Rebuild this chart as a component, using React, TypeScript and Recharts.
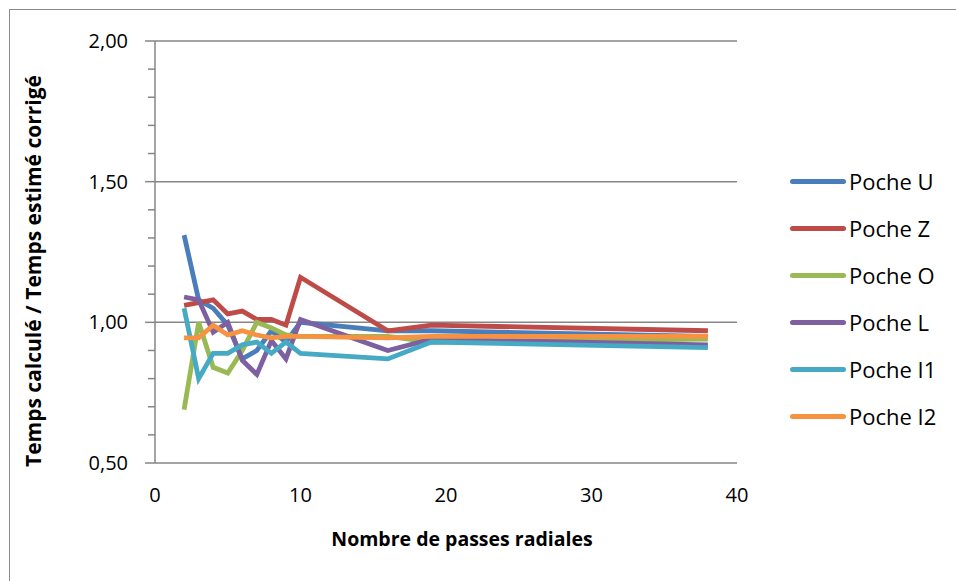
import React from "react";
import { LineChart, Line, XAxis, YAxis, ReferenceLine } from "recharts";

const passes = [2, 3, 4, 5, 6, 7, 8, 9, 10, 16, 19, 38];
const pocheU = [1.31, 1.08, 1.05, 0.99, 0.87, 0.9, 0.97, 0.93, 1.0, 0.97, 0.97, 0.95];
const pocheZ = [1.06, 1.07, 1.08, 1.03, 1.04, 1.01, 1.01, 0.99, 1.16, 0.97, 0.99, 0.97];
const pocheO = [0.69, 1.0, 0.84, 0.82, 0.9, 1.0, 0.98, 0.955, 0.95, 0.95, 0.93, 0.94];
const pocheL = [1.09, 1.08, 0.965, 1.0, 0.865, 0.815, 0.935, 0.87, 1.01, 0.9, 0.94, 0.92];
const pocheI1 = [1.05, 0.8, 0.89, 0.89, 0.92, 0.93, 0.89, 0.93, 0.89, 0.87, 0.93, 0.91];
const pocheI2 = [0.945, 0.945, 0.99, 0.955, 0.97, 0.955, 0.945, 0.95, 0.95, 0.945, 0.95, 0.95];

const xTicks = [0, 10, 20, 30, 40];
const yTicks = [0.5, 0.6, 0.7, 0.8, 0.9, 1.0, 1.1, 1.2, 1.3, 1.4, 1.5, 1.6, 1.7, 1.8, 1.9, 2.0];
const yMajor = [1.0, 1.5, 2.0];

const SERIES = [
  { key: "u", name: "Poche U", values: pocheU, color: "#4A7EBB" },
  { key: "z", name: "Poche Z", values: pocheZ, color: "#BE4B48" },
  { key: "o", name: "Poche O", values: pocheO, color: "#98B954" },
  { key: "l", name: "Poche L", values: pocheL, color: "#7D60A0" },
  { key: "i1", name: "Poche I1", values: pocheI1, color: "#46AAC5" },
  { key: "i2", name: "Poche I2", values: pocheI2, color: "#F69240" },
];

const FONT = "'Open Sans', 'Liberation Sans', sans-serif";
const GRID = "#868686";

const data = passes.map((x, i) => {
  const row: Record<string, number> = { x };
  SERIES.forEach((s) => {
    row[s.key] = s.values[i];
  });
  return row;
});

const isMajor = (v: number) => Math.round(v * 100) % 50 === 0;

// y tick: short mark for minor steps, longer mark + label for major ones
const YTick = (props: any) => {
  const { x, y, payload } = props;
  const v = payload.value as number;
  const major = isMajor(v);
  return (
    <g>
      <line x1={x - (major ? 10 : 7)} x2={x} y1={y} y2={y} stroke={GRID} strokeWidth={1.5} />
      {major && (
        <text
          x={x - 27}
          y={y}
          dy="0.35em"
          textAnchor="end"
          fontSize={20}
          fontFamily={FONT}
          fill="#000"
        >
          {v.toFixed(2).replace(".", ",")}
        </text>
      )}
    </g>
  );
};

export default function App() {
  return (
    <div
      style={{
        position: "fixed",
        left: 0,
        top: 0,
        width: 956,
        height: 581,
        overflow: "hidden",
        background: "#fff",
        fontFamily: FONT,
      }}
    >
      <div
        style={{
          position: "absolute",
          left: 9,
          top: 9,
          width: 1000,
          height: 700,
          border: "1px solid #8a8a8a",
        }}
      />
      <div style={{ position: "absolute", left: 0, top: 0 }}>
        <LineChart
          width={956}
          height={581}
          data={data}
          margin={{ top: 41, right: 219, bottom: 0, left: 95 }}
        >
          <XAxis
            dataKey="x"
            type="number"
            domain={[0, 40]}
            ticks={xTicks}
            tickLine={false}
            tickSize={0}
            tickMargin={25}
            height={118}
            axisLine={{ stroke: GRID, strokeWidth: 1.5 }}
            tick={{ fontSize: 20, fill: "#000", fontFamily: FONT }}
          />
          <YAxis
            type="number"
            domain={[0.5, 2]}
            ticks={yTicks}
            interval={0}
            width={60}
            tickSize={0}
            tickMargin={0}
            tickLine={false}
            axisLine={{ stroke: GRID, strokeWidth: 1.5 }}
            tick={YTick}
          />
          {yMajor.map((v) => (
            <ReferenceLine key={v} y={v} stroke={GRID} strokeWidth={1.5} />
          ))}
          {SERIES.map((s) => (
            <Line
              key={s.key}
              dataKey={s.key}
              name={s.name}
              stroke={s.color}
              strokeWidth={4.8}
              dot={false}
              type="linear"
              isAnimationActive={false}
            />
          ))}
        </LineChart>
      </div>
      <div
        style={{
          position: "absolute",
          left: 33,
          top: 271,
          transform: "translate(-50%, -50%) rotate(-90deg)",
          whiteSpace: "nowrap",
          fontWeight: "bold",
          fontSize: 21,
        }}
      >
        Temps calculé / Temps estimé corrigé
      </div>
      <div
        style={{
          position: "absolute",
          left: 462,
          top: 538,
          transform: "translate(-50%, -50%)",
          whiteSpace: "nowrap",
          fontWeight: "bold",
          fontSize: 19.5,
        }}
      >
        Nombre de passes radiales
      </div>
      {SERIES.map((s, i) => (
        <div
          key={s.key}
          style={{
            position: "absolute",
            left: 790,
            top: 181 + i * 47 - 15,
            height: 30,
            display: "flex",
            alignItems: "center",
            fontSize: 22,
          }}
        >
          <span
            style={{
              display: "inline-block",
              width: 56,
              height: 5,
              borderRadius: 2.5,
              background: s.color,
              marginRight: 3,
            }}
          />
          {s.name}
        </div>
      ))}
    </div>
  );
}
